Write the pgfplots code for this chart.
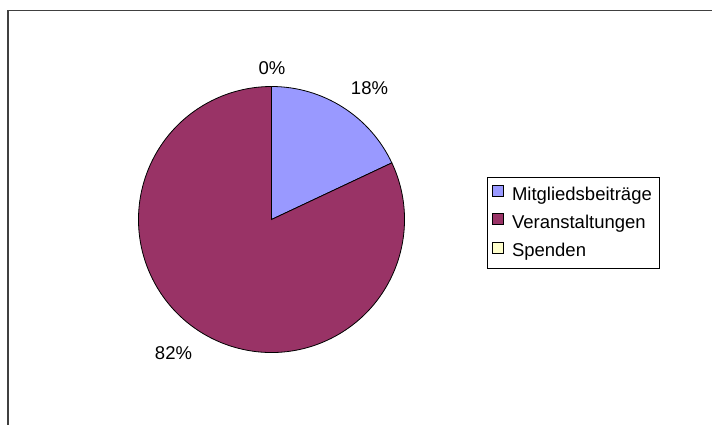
\documentclass[border=0pt]{standalone}
\usepackage{pgfplots}
\pgfplotsset{compat=1.18}
\usepackage{pgfplotstable}
\usepackage{fontspec}
\setmainfont{Liberation Sans}

\definecolor{pieA}{HTML}{9999FF}
\definecolor{pieB}{HTML}{993366}
\definecolor{pieC}{HTML}{FFFFCC}

% share in percent, fill colour
\pgfplotstableread{
share colour
18 pieA
82 pieB
0  pieC
}\piedata

\begin{document}
\begin{tikzpicture}
\useasboundingbox (0,0) rectangle (712pt,425pt);
\begin{axis}[
  at={(0,0)}, anchor=south west,
  scale only axis, width=712pt, height=425pt,
  xmin=0, xmax=712, ymin=0, ymax=425, y dir=reverse,
  hide axis, clip=false,
  legend style={at={(axis cs:487,177)}, anchor=north west, draw=black,
    line width=0.8pt, inner xsep=5pt, inner ysep=7.5pt, row sep=9pt,
    nodes={inner xsep=3pt, inner ysep=0pt, text height=13pt, text depth=4pt,
      font=\fontsize{18.5}{22}\selectfont},
    /tikz/every odd column/.append style={column sep=5pt}},
  legend cell align=left,
  legend image code/.code={\draw[#1, line width=0.6pt] (0pt,-0.5pt) rectangle (11pt,10.5pt);},
]
% chart frame (cut at the right and bottom edges)
\draw[line width=1.5pt, black!75] (axis cs:8,430) -- (axis cs:8,10.7) -- (axis cs:720,10.7);

\def\cum{0}
\pgfplotstablegetrowsof{\piedata}
\pgfmathtruncatemacro\lastrow{\pgfplotsretval-1}
\pgfplotsforeachungrouped \k in {0,...,\lastrow}{%
  \pgfplotstablegetelem{\k}{share}\of\piedata \let\share\pgfplotsretval
  \pgfplotstablegetelem{\k}{colour}\of\piedata \let\col\pgfplotsretval
  \pgfmathsetmacro\aS{90-3.6*\cum}
  \pgfmathsetmacro\aE{90-3.6*(\cum+\share)}
  \edef\slice{\noexpand\filldraw[fill=\col, draw=black, line width=0.8pt]
    (axis cs:271.5,219.5) -- ++(\aS:133pt) arc[start angle=\aS, end angle=\aE, radius=133pt] -- cycle;}
  \slice
  \pgfmathsetmacro\cum{\cum+\share}
}

\begin{scope}[font=\fontsize{18.5}{22}\selectfont]
\node at (axis cs:272,68.5) {0\%};
\node at (axis cs:369.5,88) {18\%};
\node at (axis cs:173.5,353) {82\%};
\end{scope}

\addlegendimage{fill=pieA, draw=black}
\addlegendentry{Mitgliedsbeiträge}
\addlegendimage{fill=pieB, draw=black}
\addlegendentry{Veranstaltungen}
\addlegendimage{fill=pieC, draw=black}
\addlegendentry{Spenden}
\end{axis}
\end{tikzpicture}
\end{document}
